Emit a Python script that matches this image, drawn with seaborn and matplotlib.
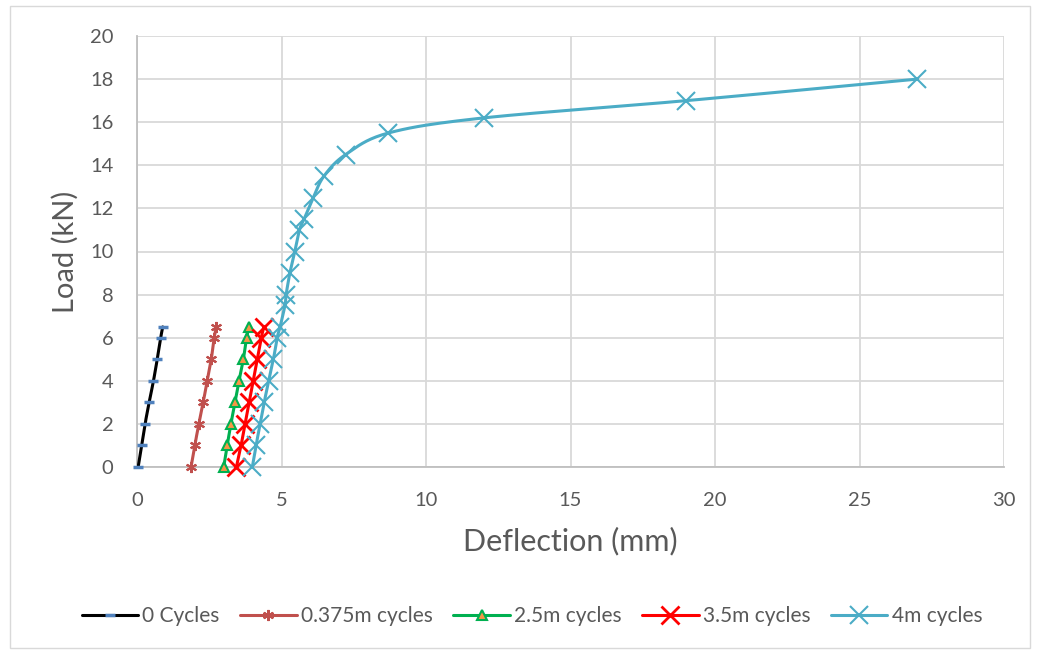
import numpy as np
import matplotlib
matplotlib.use("Agg")
import matplotlib.pyplot as plt
from matplotlib.lines import Line2D
from matplotlib.patches import Rectangle
import seaborn as sns
import pandas as pd

sns.set_theme(style="white")
plt.rcParams['font.family'] = ['Lato', 'DejaVu Sans']

load_small = [0, 1, 2, 3, 4, 5, 6, 6.5]
defl_0 = [0.04, 0.16, 0.28, 0.42, 0.57, 0.70, 0.82, 0.89]
defl_0375 = [1.87, 2.00, 2.14, 2.29, 2.43, 2.57, 2.67, 2.75]
defl_25 = [3.00, 3.12, 3.25, 3.39, 3.53, 3.68, 3.79, 3.88]
defl_35 = [3.44, 3.60, 3.74, 3.88, 4.02, 4.16, 4.30, 4.39]
load_4m = [0, 1, 2, 3, 4, 5, 6, 6.5, 7.5, 8, 9, 10, 11, 11.5, 12.5, 13.5, 14.5, 15.5, 16.2, 17, 18]
defl_4m = [3.99, 4.12, 4.26, 4.40, 4.56, 4.72, 4.85, 4.95, 5.12, 5.16, 5.29, 5.46, 5.62, 5.78, 6.10, 6.47, 7.22, 8.70, 12.0, 19.0, 27.0]

series_names = ["0 Cycles", "0.375m cycles", "2.5m cycles", "3.5m cycles", "4m cycles"]

def smooth(x, y, n=20):
    # Catmull-Rom rendering of the line through the points (display smoothing)
    x = np.asarray(x, float); y = np.asarray(y, float)
    P = np.column_stack([x, y])
    P = np.vstack([P[0], P, P[-1]])
    out = []
    for i in range(1, len(P) - 2):
        p0, p1, p2, p3 = P[i-1], P[i], P[i+1], P[i+2]
        t = np.linspace(0, 1, n, endpoint=False)[:, None]
        pts = 0.5 * ((2*p1) + (-p0 + p2)*t + (2*p0 - 5*p1 + 4*p2 - p3)*t**2 + (-p0 + 3*p1 - 3*p2 + p3)*t**3)
        out.append(pts)
    out.append(P[-2][None, :])
    out = np.vstack(out)
    return out[:, 0], out[:, 1]

fig = plt.figure(figsize=(10.37, 6.51), dpi=100)
fig.patch.set_facecolor('white')
ax = fig.add_axes([137/1037, 1-467/651, (1004-137)/1037, (467-36)/651])

styles = [
    dict(color='black', marker='_', mfc='#4F81BD', mec='#4F81BD', ms=7, mew=2.5),
    dict(color='#C0504D', marker=(6, 2, 0), mfc='#C0504D', mec='#C0504D', ms=8, mew=1.5),
    dict(color='#00B050', marker='^', mfc='#F79646', mec='#00B050', ms=7, mew=1.5),
    dict(color='#FF0000', marker='x', mfc='#FF0000', mec='#FF0000', ms=13, mew=2),
    dict(color='#4BACC6', marker='x', mfc='#4BACC6', mec='#4BACC6', ms=13, mew=1.5),
]
data = [(defl_0, load_small), (defl_0375, load_small), (defl_25, load_small),
        (defl_35, load_small), (defl_4m, load_4m)]

handles = []
for name, (xs, ys), st in zip(series_names, data, styles):
    sx, sy = smooth(xs, ys)
    ax.plot(sx, sy, color=st['color'], lw=2.2, zorder=3, solid_capstyle='round')
    df = pd.DataFrame({'x': xs, 'y': ys})
    ax.plot(df['x'], df['y'], linestyle='none', marker=st['marker'], ms=st['ms'],
            mfc=st['mfc'], mec=st['mec'], mew=st['mew'], zorder=4, clip_on=False)
    handles.append(Line2D([], [], color=st['color'], lw=2.2, marker=st['marker'], ms=st['ms'],
                          mfc=st['mfc'], mec=st['mec'], mew=st['mew']))

ax.set_xlim(0, 30)
ax.set_ylim(0, 20)
ax.set_xticks(range(0, 31, 5))
ax.set_yticks(range(0, 21, 2))
ax.grid(True, color='#D9D9D9', lw=1.3)
ax.set_axisbelow(True)
for s in ['top', 'right']:
    ax.spines[s].set_visible(False)
for s in ['left', 'bottom']:
    ax.spines[s].set_color('#BFBFBF')
    ax.spines[s].set_linewidth(1.3)
ax.tick_params(axis='both', length=0, labelsize=14.5, labelcolor='#595959')
ax.tick_params(axis='x', pad=18)
ax.tick_params(axis='y', pad=17)
ax.set_xlabel('Deflection (mm)', fontsize=22, color='#595959', labelpad=13)
ax.set_ylabel('Load (kN)', fontsize=21, color='#595959', labelpad=8)

fig.legend(handles, series_names, loc='center', bbox_to_anchor=(532/1037, 1-616/651), ncol=5,
           frameon=False, fontsize=15, labelcolor='#595959', handlelength=2.7,
           columnspacing=1.0, handletextpad=0.2)

fig.patches.append(Rectangle((10/1037, 1-648/651), 1020/1037, 642/651, transform=fig.transFigure,
                             fill=False, edgecolor='#D9D9D9', lw=1))

fig.savefig('out.png', dpi=100, facecolor='white')
